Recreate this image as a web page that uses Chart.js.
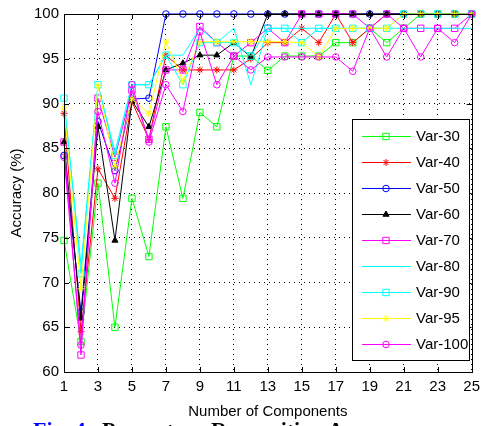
<!DOCTYPE html>
<html><head><meta charset="utf-8">
<script src="https://cdn.jsdelivr.net/npm/chart.js@4.4.1/dist/chart.umd.min.js"></script>
<style>
html,body{margin:0;padding:0;background:#fff;overflow:hidden;width:486px;height:426px;}
#wrap{position:relative;width:486px;height:426px;overflow:hidden;}
canvas{position:absolute;left:0;top:0;}
#cap{position:absolute;left:33px;top:419px;font:bold 22px "Liberation Serif","Times New Roman",serif;line-height:22px;white-space:nowrap;color:#000;}
</style></head>
<body><div id="wrap"><canvas id="c" width="486" height="426"></canvas><div id="cap"><span style="color:#0000ff">Fig. 4.</span>&nbsp; Percentage Recognition Accuracy</div></div>
<script>
// ---- data ----
const components = [1,2,3,4,5,6,7,8,9,10,11,12,13,14,15,16,17,18,19,20,21,22,23,24,25];
const xTickLabels = [1,3,5,7,9,11,13,15,17,19,21,23,25];
const yTickLabels = [60,65,70,75,80,85,90,95,100];
const seriesLabels = ['Var-30','Var-40','Var-50','Var-60','Var-70','Var-80','Var-90','Var-95','Var-100'];
const var30  = [74.7,63.4,81.1,65.0,79.4,72.9,87.4,79.4,89.0,87.4,95.3,95.3,93.7,95.3,95.3,95.3,96.8,96.8,98.4,96.8,98.4,100,100,100,100];
const var40  = [88.9,64.5,82.7,79.4,90.2,86.0,95.4,93.75,93.75,93.75,93.75,95.0,96.8,96.8,98.4,96.8,100,96.8,98.4,100,100,100,100,100,100];
const var50  = [84.2,66.7,88.0,82.5,90.5,90.6,100,100,100,100,100,100,100,100,100,100,100,100,100,100,100,100,100,100,100];
const var60  = [85.7,66.0,87.4,74.7,90.3,87.4,93.75,94.5,95.4,95.4,96.8,95.2,100,100,100,100,100,100,100,100,100,100,100,100,100];
const var70  = [85.7,61.9,90.6,84.0,91.5,86.0,93.75,93.75,98.6,96.8,95.3,96.8,98.4,96.8,100,100,100,100,98.4,100,98.4,98.4,98.4,98.4,100];
const var80  = [90.0,72.0,92.1,84.6,92.1,92.1,95.4,95.4,98.4,96.8,98.4,92.1,98.4,98.4,98.4,98.4,98.4,98.4,98.4,98.4,98.4,98.4,98.4,98.4,98.4];
const var90  = [90.6,71.0,92.1,84.2,92.1,92.1,95.4,92.1,96.8,96.8,96.8,95.3,98.4,98.4,96.8,98.4,98.4,98.4,98.4,98.4,100,100,100,100,100];
const var95  = [89.5,69.3,92.0,83.0,90.5,88.9,96.9,92.5,96.9,96.9,96.9,96.9,96.9,96.9,96.8,95.2,98.4,98.4,98.4,98.4,100,100,100,100,100];
const var100 = [84.0,63.0,89.1,81.1,92.1,85.7,92.1,89.1,98.0,92.1,95.3,93.75,95.2,95.2,95.2,95.2,95.2,93.6,98.4,95.2,98.4,95.2,98.4,96.8,100];
const seriesValues = [var30,var40,var50,var60,var70,var80,var90,var95,var100];

// ---- styles ----
const styles = [
  {color:'#00ff00', point:'rect', r:4.5, fill:false},
  {color:'#ff0000', point:'star', r:3.5, fill:false},
  {color:'#0000ff', point:'circle', r:3.3, fill:false},
  {color:'#000000', point:'triangle', r:3.5, fill:true},
  {color:'#ff00ff', point:'rect', r:4.5, fill:false},
  {color:'#00ffff', point:false, r:0, fill:false},
  {color:'#00ffff', point:'rect', r:4.5, fill:false},
  {color:'#ffff00', point:'star', r:3.5, fill:false},
  {color:'#ff00ff', point:'circle', r:3.3, fill:false}
];
const FONT = '"Liberation Sans", Arial, sans-serif';

const datasets = seriesLabels.map((lab,i)=>({
  label: lab,
  data: components.map((c,j)=>({x:c, y:seriesValues[i][j]})),
  borderColor: styles[i].color,
  backgroundColor: styles[i].color,
  pointBorderColor: styles[i].color,
  pointBackgroundColor: styles[i].fill ? styles[i].color : 'rgba(0,0,0,0)',
  pointStyle: styles[i].point || 'circle',
  pointRadius: styles[i].r,
  pointHoverRadius: styles[i].r,
  pointBorderWidth: 1,
  borderWidth: 1,
  tension: 0,
  clip: false,
  order: seriesLabels.length - i
}));

function drawMarker(ctx, st, x, y){
  if(!st.point || !st.r) return;
  ctx.save();
  ctx.strokeStyle = st.color; ctx.fillStyle = st.color; ctx.lineWidth = 1;
  if (Chart.helpers && Chart.helpers.drawPoint){
    ctx.fillStyle = st.fill ? st.color : 'rgba(0,0,0,0)';
    Chart.helpers.drawPoint(ctx, {pointStyle: st.point, radius: st.r, rotation: 0, borderWidth: 1}, x, y);
  } else {
    ctx.beginPath();
    if(st.point==='rect'){ const s=st.r*Math.SQRT1_2; ctx.rect(x-s,y-s,2*s,2*s); ctx.stroke(); }
    else if(st.point==='circle'){ ctx.arc(x,y,st.r,0,Math.PI*2); ctx.stroke(); }
    else if(st.point==='triangle'){ ctx.moveTo(x,y-st.r); ctx.lineTo(x+st.r,y+st.r*0.6); ctx.lineTo(x-st.r,y+st.r*0.6); ctx.closePath(); ctx.fill(); ctx.stroke(); }
    else if(st.point==='star'){ for(let k=0;k<4;k++){const a=k*Math.PI/4; ctx.moveTo(x-Math.cos(a)*st.r,y-Math.sin(a)*st.r); ctx.lineTo(x+Math.cos(a)*st.r,y+Math.sin(a)*st.r);} ctx.stroke(); }
  }
  ctx.restore();
}

const framePlugin = {
  id: 'frame',
  afterDatasetsDraw(chart){
    const ctx = chart.ctx, a = chart.chartArea;
    const xs = chart.scales.x, ys = chart.scales.y;
    ctx.save();
    ctx.strokeStyle = '#000'; ctx.lineWidth = 1;
    ctx.strokeRect(Math.round(a.left)+0.5, Math.round(a.top)+0.5, Math.round(a.right-a.left), Math.round(a.bottom-a.top));
    ctx.beginPath();
    const tl = 5;
    xTickLabels.forEach(v=>{
      const px = Math.round(xs.getPixelForValue(v))+0.5;
      ctx.moveTo(px, a.bottom); ctx.lineTo(px, a.bottom-tl);
      ctx.moveTo(px, a.top); ctx.lineTo(px, a.top+tl);
    });
    yTickLabels.forEach(v=>{
      const py = Math.round(ys.getPixelForValue(v))+0.5;
      ctx.moveTo(a.left, py); ctx.lineTo(a.left+tl, py);
      ctx.moveTo(a.right, py); ctx.lineTo(a.right-tl, py);
    });
    ctx.stroke();
    ctx.restore();
  }
};

const legendPlugin = {
  id: 'insideLegend',
  afterDraw(chart){
    const ctx = chart.ctx, a = chart.chartArea;
    const l = Math.round(a.left + 288), t = Math.round(a.top + 105), r = Math.round(a.right - 3), b = Math.round(a.top + 346);
    ctx.save();
    ctx.fillStyle = '#fff';
    ctx.fillRect(l, t, r-l, b-t);
    ctx.strokeStyle = '#000'; ctx.lineWidth = 1;
    ctx.strokeRect(l+0.5, t+0.5, r-l, b-t);
    ctx.font = '15px ' + FONT;
    ctx.textBaseline = 'middle'; ctx.textAlign = 'left';
    seriesLabels.forEach((lab,i)=>{
      const y = t + 17 + 26*i + 0.5;
      const st = styles[i];
      ctx.strokeStyle = st.color; ctx.lineWidth = 1;
      ctx.beginPath(); ctx.moveTo(l+10, y); ctx.lineTo(l+59, y); ctx.stroke();
      drawMarker(ctx, st, l+34, y);
      ctx.fillStyle = '#000';
      ctx.fillText(lab, l+64, y);
    });
    ctx.restore();
  }
};

new Chart(document.getElementById('c'), {
  type: 'line',
  data: { datasets },
  options: {
    responsive: false,
    animation: false,
    events: [],
    layout: { autoPadding: false, padding: {top: 12, right: 6, left: 0, bottom: 0} },
    plugins: { legend: {display: false}, tooltip: {enabled: false} },
    scales: {
      x: {
        type: 'linear', min: 1, max: 25,
        afterBuildTicks: s => { s.ticks = xTickLabels.map(v=>({value:v})); },
        afterFit: s => { s.height = 54; },
        grid: { color: '#000', lineWidth: 1, drawTicks: false },
        border: { display: false, dash: [1,4] },
        ticks: { padding: 6, color: '#000', font: {family: FONT, size: 15}, autoSkip: false, maxRotation: 0 },
        title: { display: true, text: 'Number of Components', color: '#000', font: {family: FONT, size: 15}, padding: {top: 0, bottom: 5} }
      },
      y: {
        min: 60, max: 100,
        afterBuildTicks: s => { s.ticks = yTickLabels.map(v=>({value:v})); },
        afterFit: s => { s.width = 64; },
        grid: { color: '#000', lineWidth: 1, drawTicks: false },
        border: { display: false, dash: [1,4] },
        ticks: { padding: 5, color: '#000', font: {family: FONT, size: 15} },
        title: { display: true, text: 'Accuracy (%)', color: '#000', font: {family: FONT, size: 15}, padding: {top: 8, bottom: 0} }
      }
    }
  },
  plugins: [framePlugin, legendPlugin]
});
</script>
</body></html>
